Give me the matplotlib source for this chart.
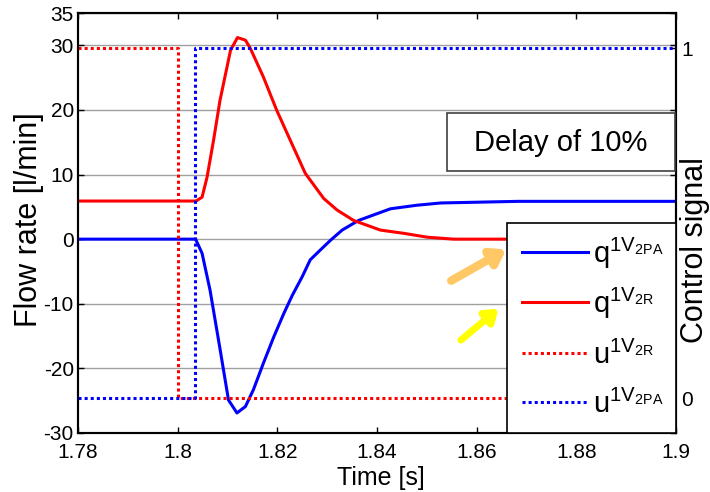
import matplotlib
matplotlib.use("Agg")
import matplotlib.pyplot as plt
from matplotlib.lines import Line2D
from matplotlib.patches import Rectangle

plt.rcParams['font.family'] = ['Liberation Sans', 'DejaVu Sans']
plt.rcParams['mathtext.fontset'] = 'custom'
plt.rcParams['mathtext.rm'] = 'Liberation Sans'
plt.rcParams['mathtext.it'] = 'Liberation Sans'

# ---- data ----
q2R_t = [1.78, 1.8037, 1.8049, 1.8059, 1.8072, 1.8085, 1.8106, 1.8120, 1.8136, 1.8146,
         1.8172, 1.8199, 1.8226, 1.8256, 1.8293, 1.8320, 1.8353, 1.8407, 1.8454,
         1.8501, 1.8554, 1.87, 1.9]
q2R_v = [5.9, 5.9, 6.5, 9.6, 15.3, 21.5, 29.2, 31.2, 30.8, 29.5,
         25.1, 19.9, 15.3, 10.2, 6.3, 4.5, 2.9, 1.4, 0.9,
         0.3, 0.0, 0.0, 0.0]

q2PA_t = [1.78, 1.8036, 1.8049, 1.8065, 1.8085, 1.8102, 1.8119, 1.8136, 1.8152, 1.8172,
          1.8193, 1.8213, 1.8230, 1.8250, 1.8266, 1.8286, 1.8307, 1.8330, 1.8363,
          1.8427, 1.8480, 1.8528, 1.8683, 1.9]
q2PA_v = [0.0, 0.0, -2.2, -7.9, -17.0, -24.9, -26.9, -25.9, -23.3, -19.2,
          -15.1, -11.5, -8.7, -5.8, -3.2, -1.7, -0.15, 1.4, 2.9,
          4.7, 5.25, 5.6, 5.85, 5.85]

u2R_t = [1.78, 1.8, 1.9]
u2R_v = [1, 0, 0]
u2PA_t = [1.78, 1.8035, 1.9]
u2PA_v = [0, 1, 1]

left_ticks = [-30, -20, -10, 0, 10, 20, 30, 35]
right_ticks = [0, 1]
x_ticks = [1.78, 1.8, 1.82, 1.84, 1.86, 1.88, 1.9]
x_ticklabels = ['1.78', '1.8', '1.82', '1.84', '1.86', '1.88', '1.9']

labels = [r'q$^{\mathregular{1V_{2PA}}}$', r'q$^{\mathregular{1V_{2R}}}$',
          r'u$^{\mathregular{1V_{2R}}}$', r'u$^{\mathregular{1V_{2PA}}}$']
colors = ['#0000ff', '#ff0000', '#ff0000', '#0000ff']
styles = ['-', '-', (0, (1, 1)), (0, (1, 1))]

# ---- figure ----
W, H = 710, 492
AX_L, AX_R, AX_T, AX_B = 78, 676, 13, 433
fig = plt.figure(figsize=(W / 100, H / 100), dpi=100)
ax = fig.add_axes([AX_L / W, 1 - AX_B / H, (AX_R - AX_L) / W, (AX_B - AX_T) / H])
ax2 = ax.twinx()


def fx(px):
    return (px - AX_L) / (AX_R - AX_L)


def fy(py):
    return (AX_B - py) / (AX_B - AX_T)


lw = 2.2
ax.plot(q2PA_t, q2PA_v, color=colors[0], lw=lw, zorder=3)
ax.plot(q2R_t, q2R_v, color=colors[1], lw=lw, zorder=3)
ax2.plot(u2R_t, u2R_v, color=colors[2], lw=lw, ls=styles[2], drawstyle='steps-post')
ax2.plot(u2PA_t, u2PA_v, color=colors[3], lw=lw, ls=styles[3], drawstyle='steps-post')

ax.set_xlim(1.78, 1.9)
ax.set_ylim(-30, 35)
ax2.set_ylim(-0.1, 1.1)
ax.set_xticks(x_ticks)
ax.set_xticklabels(x_ticklabels)
ax.set_yticks(left_ticks)
ax.set_yticklabels([str(t) for t in left_ticks])
ax2.set_yticks(right_ticks)
ax2.set_yticklabels(['0', '1'])
ax.yaxis.grid(True, color='#a0a0a0', lw=1.0)
ax.set_axisbelow(True)

ax.tick_params(axis='x', direction='in', labelsize=15, length=4, width=1, top=True, pad=7)
ax.tick_params(axis='y', direction='in', labelsize=15, length=4, width=1, right=True, pad=3)
ax2.tick_params(axis='y', direction='in', labelsize=15, length=4, width=1, pad=4)
for a in (ax, ax2):
    for s in a.spines.values():
        s.set_linewidth(1.5)

fig.text(381 / W, 1 - 485 / H, 'Time [s]', fontsize=18, ha='center', va='baseline')
fig.text(29 / W, 1 - 220 / H, 'Flow rate [l/min]', fontsize=22, rotation=90,
         ha='center', va='center')
fig.text(695 / W, 1 - 250 / H, 'Control signal', fontsize=22, rotation=90,
         ha='center', va='center')

# text box
ax2.add_patch(Rectangle((fx(447), fy(171)), fx(675) - fx(447), fy(113) - fy(171),
                        transform=ax2.transAxes, fc='white', ec='#404040', lw=1.2,
                        zorder=6, clip_on=False))
ax2.text(fx(561), fy(143), 'Delay of 10%', transform=ax2.transAxes, fontsize=21,
         ha='center', va='center', zorder=7)

# arrows
ax2.annotate('', xy=(1.8664, -1.39), xytext=(1.8544, -6.65),
             xycoords=ax.transData, textcoords=ax.transData,
             arrowprops=dict(arrowstyle='-|>,head_length=0.8,head_width=0.55',
                             color='#ffc864', lw=6), zorder=5)
ax2.annotate('', xy=(1.8648, -10.5), xytext=(1.8564, -15.9),
             xycoords=ax.transData, textcoords=ax.transData,
             arrowprops=dict(arrowstyle='-|>,head_length=0.7,head_width=0.5',
                             color='#ffff00', lw=5), zorder=5)

# legend (frame, handles, labels)
ax2.add_patch(Rectangle((fx(507), 0), 1 - fx(507), fy(223),
                        transform=ax2.transAxes, fc='white', ec='black', lw=1.2,
                        zorder=8, clip_on=False))
row_y = [252, 302, 353, 402]
for lab, c, st, yy in zip(labels, colors, styles, row_y):
    ax2.add_line(Line2D([fx(522), fx(588)], [fy(yy), fy(yy)], transform=ax2.transAxes,
                        color=c, lw=lw, ls=st, zorder=9))
    ax2.text(fx(593), fy(yy + 11), lab, transform=ax2.transAxes, fontsize=21,
             ha='left', va='baseline', zorder=9)

fig.savefig('out.png', dpi=100)
